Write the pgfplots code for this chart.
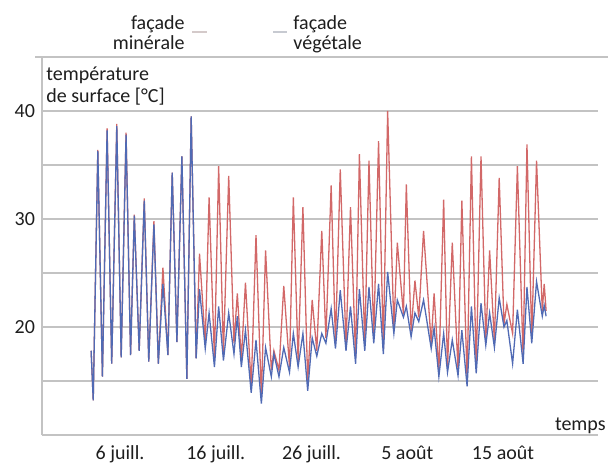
\documentclass[border=0pt]{standalone}
\usepackage{fontspec}
\setmainfont{Carlito}
\usepackage{pgfplots}
\pgfplotsset{compat=1.18}
\definecolor{rouge}{RGB}{210,104,104}
\definecolor{bleu}{RGB}{80,106,180}
\definecolor{grille}{RGB}{195,195,195}
\definecolor{texte}{RGB}{30,30,30}
\begin{document}
\begin{tikzpicture}
\useasboundingbox (-21pt,-14.5pt) rectangle (283pt,217.5pt);
\begin{axis}[
 at={(0,0)}, anchor=south west,
 scale only axis, width=278pt, height=189pt,
 xmin=-2.15, xmax=55.92, ymin=10, ymax=45,
 axis x line*=bottom, axis y line*=left,
 axis line style={grille, line width=0.8pt},
 xtick={6,16,26,36,46}, xticklabels={6 juill.,16 juill.,26 juill.,5 août,15 août},
 ytick={15,20,25,30,35,40,45}, yticklabels={,20,,30,,40,},
 ymajorgrids,
 grid style={grille, line width=0.8pt},
 major tick length=0pt,
 tick label style={font=\fontsize{10}{12}\selectfont, text=texte},
 xticklabel style={yshift=-2pt},
 /pgf/number format/assume math mode=true,
 clip=false,
]
\addplot[rouge, line width=0.65pt] coordinates {
(2.98,17.8)(3.2,13.2)(3.68,36.4)(4.16,15.4)(4.65,38.4)(5.13,16.6)(5.66,38.8)(6.12,17.2)(6.63,38.0)(7.1,17.4)(7.49,30.4)(8.0,17.8)(8.53,31.9)(9.0,16.8)(9.54,29.8)(10.0,16.6)(10.48,25.5)(11.0,17.4)(11.45,34.3)(11.94,18.6)(12.46,35.8)(12.98,15.2)(13.43,39.5)(13.95,17.1)(14.3,26.8)(14.9,18.5)(15.3,32.0)(15.86,17.0)(16.3,34.9)(16.8,17.5)(17.35,34.0)(17.9,18.5)(18.25,23.1)(18.67,17.0)(19.1,24.1)(19.7,14.5)(20.2,28.5)(20.76,13.5)(21.2,27.1)(21.8,16.0)(22.07,17.8)(22.6,16.0)(23.1,23.8)(23.7,16.3)(24.1,32.0)(24.6,16.8)(25.1,31.1)(25.6,15.0)(26.07,22.5)(26.55,17.8)(27.07,28.9)(27.5,19.0)(28.05,33.1)(28.5,18.5)(29.0,34.6)(29.6,18.3)(30.07,31.1)(30.6,17.2)(31.0,36.0)(31.56,18.3)(32.0,35.4)(32.5,19.0)(33.0,37.2)(33.5,18.0)(33.95,40.0)(34.6,19.9)(34.96,27.8)(35.6,21.2)(35.9,33.2)(36.4,19.6)(36.8,24.3)(37.2,20.9)(37.7,28.9)(38.5,18.5)(38.8,23.1)(39.3,15.9)(39.8,31.8)(40.2,16.2)(40.7,27.8)(41.3,16.0)(41.7,31.7)(42.25,15.0)(42.7,35.8)(43.2,16.2)(43.7,35.8)(44.2,18.8)(44.6,27.1)(45.1,18.6)(45.6,33.8)(46.1,20.3)(46.4,22.1)(47.0,19.4)(47.5,34.9)(48.1,17.2)(48.5,36.9)(49.0,19.0)(49.5,35.4)(50.1,21.5)(50.3,24.0)(50.5,21.5)
};
\addplot[bleu, line width=0.65pt] coordinates {
(2.98,17.8)(3.2,13.2)(3.68,36.3)(4.16,15.4)(4.65,38.2)(5.13,16.6)(5.66,38.6)(6.12,17.2)(6.63,37.8)(7.1,17.4)(7.49,30.3)(8.0,17.8)(8.53,31.7)(9.0,16.8)(9.54,29.5)(10.0,16.6)(10.48,24.0)(11.0,17.4)(11.45,34.3)(11.94,18.6)(12.46,35.8)(12.98,15.2)(13.43,39.5)(13.95,17.1)(14.3,23.5)(14.9,18.0)(15.3,21.3)(15.86,16.3)(16.3,21.9)(16.8,16.9)(17.35,21.3)(17.9,17.5)(18.25,21.0)(18.67,16.3)(19.1,19.7)(19.7,13.9)(20.2,18.8)(20.76,12.9)(21.2,18.1)(21.8,15.4)(22.07,17.5)(22.6,15.4)(23.1,18.1)(23.7,15.8)(24.1,19.4)(24.6,16.3)(25.1,19.4)(25.6,14.1)(26.07,19.0)(26.55,17.3)(27.07,19.4)(27.5,18.5)(28.05,21.7)(28.5,18.0)(29.0,23.4)(29.6,17.8)(30.07,21.9)(30.6,16.6)(31.0,23.5)(31.56,17.8)(32.0,23.7)(32.5,18.5)(33.0,24.0)(33.5,17.5)(33.95,25.1)(34.6,19.4)(34.96,22.5)(35.6,20.9)(35.9,21.9)(36.4,19.1)(36.8,21.3)(37.2,20.5)(37.7,22.5)(38.5,18.0)(38.8,19.9)(39.3,15.4)(39.8,19.4)(40.2,15.8)(40.7,18.8)(41.3,15.5)(41.7,19.7)(42.25,14.5)(42.7,21.9)(43.2,15.7)(43.7,22.2)(44.2,18.3)(44.6,21.3)(45.1,18.1)(45.6,22.7)(46.1,20.0)(46.4,20.6)(47.0,16.6)(47.5,21.6)(48.1,16.6)(48.5,23.7)(49.0,18.5)(49.5,24.2)(50.1,21.0)(50.3,22.0)(50.5,21.0)
};
\draw[grille, line width=0.8pt] (axis cs:-2.88,45) -- (axis cs:56.97,45);
\begin{scope}[every node/.style={inner sep=0pt, font=\fontsize{10}{12}\selectfont, text=texte}]
\node[anchor=base west] at (axis cs:-1.73,42.87) {température};
\node[anchor=base west] at (axis cs:-1.73,40.83) {de surface [°C]};
\node[anchor=base east] at (axis cs:12.79,47.5) {façade};
\node[anchor=base east] at (axis cs:12.79,45.65) {minérale};
\node[anchor=base west] at (axis cs:24.07,47.5) {façade};
\node[anchor=base west] at (axis cs:24.07,45.65) {végétale};
\node[anchor=base east] at (axis cs:56.76,10.46) {temps};
\end{scope}
\draw[rouge!25!gray!40, line width=0.6pt] (axis cs:13.52,47.31) -- (axis cs:15.09,47.31);
\draw[bleu!25!gray!40, line width=0.6pt] (axis cs:21.98,47.31) -- (axis cs:23.44,47.31);
\end{axis}
\end{tikzpicture}
\end{document}
